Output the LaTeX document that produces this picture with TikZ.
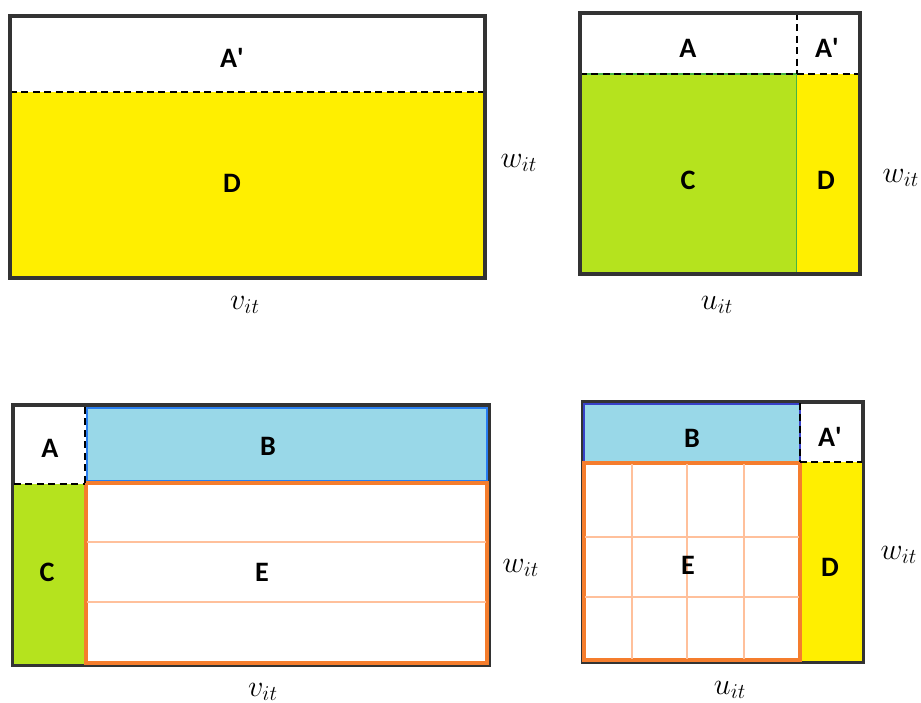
\documentclass[tikz,border=0pt]{standalone}
\usepackage{fontspec}
\setmainfont{Carlito}
\usepackage{xcolor}
\usetikzlibrary{positioning}
\definecolor{dfill}{RGB}{255,239,0}
\definecolor{cfill}{RGB}{181,227,30}
\definecolor{bfill}{RGB}{153,216,232}
\definecolor{bedge}{RGB}{40,125,240}
\definecolor{bedgedark}{RGB}{55,65,200}
\definecolor{eedge}{RGB}{245,125,45}
\definecolor{egrid}{RGB}{255,192,155}
\definecolor{cedge}{RGB}{70,180,70}
\newcommand{\Aprime}{A\textquotesingle}

\begin{document}
\begin{tikzpicture}[x=0.02cm,y=-0.02cm,
    every node/.style={font=\fontsize{16}{18}\selectfont\bfseries},
    outer/.style={draw=black!80,line width=2.3pt},
    split/.style={line width=1.1pt,dash pattern=on 4pt off 2.5pt},
    dreg/.style={fill=dfill},
    creg/.style={fill=cfill},
    breg/.style={fill=bfill,draw=bedge,line width=1.1pt},
    ereg/.style={fill=white,draw=eedge,line width=1.8pt},
    egridline/.style={draw=egrid,line width=1.3pt},
    axis/.style={font=\fontsize{17}{19}\selectfont},
]
\useasboundingbox (0,0) rectangle (921,703);

% top left
\fill[dreg] (10,92) rectangle (485,278);
\draw[split] (10,92) -- (485,92);
\draw[outer] (10,16) rectangle (485,278);
\node (tlAp) at (232,58)  {\Aprime};
\node (tlD)  at (232,183) {D};
\node[axis] (tlv) at (245,305) {$v_{it}$};
\node[axis] (tlw) at (519,163) {$w_{it}$};

% top right
\fill[creg,draw=cedge,line width=0.8pt] (580,74) rectangle (797,274);
\fill[dreg] (797,74) rectangle (860,274);
\draw[split] (580,74) -- (860,74);
\draw[split] (797,13) -- (797,74);
\draw[outer] (580,13) rectangle (860,274);
\node (trA)  at (688,48)  {A};
\node (trAp) at (827,48)  {\Aprime};
\node (trC)  at (688,180) {C};
\node (trD)  at (826,180) {D};
\node[axis] (tru) at (717,305) {$u_{it}$};
\node[axis] (trw) at (901,178) {$w_{it}$};

% bottom left
\draw[outer] (13,405) rectangle (489,665);
\fill[creg] (14,484) rectangle (85,664);
\draw[breg] (87,408) rectangle (487,481);
\draw[ereg] (86,483) rectangle (487,663);
\foreach \ry in {542,602}{
  \draw[egridline] (87,\ry) -- (486,\ry);
}
\draw[split] (85,407) -- (85,484);
\draw[split] (14,484) -- (85,484);
\node (blA) at (50,448)  {A};
\node (blB) at (268,446) {B};
\node (blC) at (47,572)  {C};
\node (blE) at (262,572) {E};
\node[axis] (blv) at (263,692) {$v_{it}$};
\node[axis] (blw) at (521,568) {$w_{it}$};

% bottom right
\draw[outer] (583,402) rectangle (863,662);
\draw[breg,draw=bedgedark] (584,404) rectangle (800,462);
\fill[dreg] (800,462) rectangle (862,661);
\draw[ereg] (584,463) rectangle (800,660);
\foreach \cx in {632,687,744}{
  \draw[egridline] (\cx,464) -- (\cx,659);
}
\foreach \ry in {537,597}{
  \draw[egridline] (585,\ry) -- (799,\ry);
}
\draw[split] (800,403) -- (800,462);
\draw[split] (800,462) -- (862,462);
\node (brB)  at (692,438) {B};
\node (brAp) at (830,437) {\Aprime};
\node (brE)  at (688,565) {E};
\node (brD)  at (830,567) {D};
\node[axis] (bru) at (730,690) {$u_{it}$};
\node[axis] (brw) at (899,555) {$w_{it}$};
\end{tikzpicture}
\end{document}
